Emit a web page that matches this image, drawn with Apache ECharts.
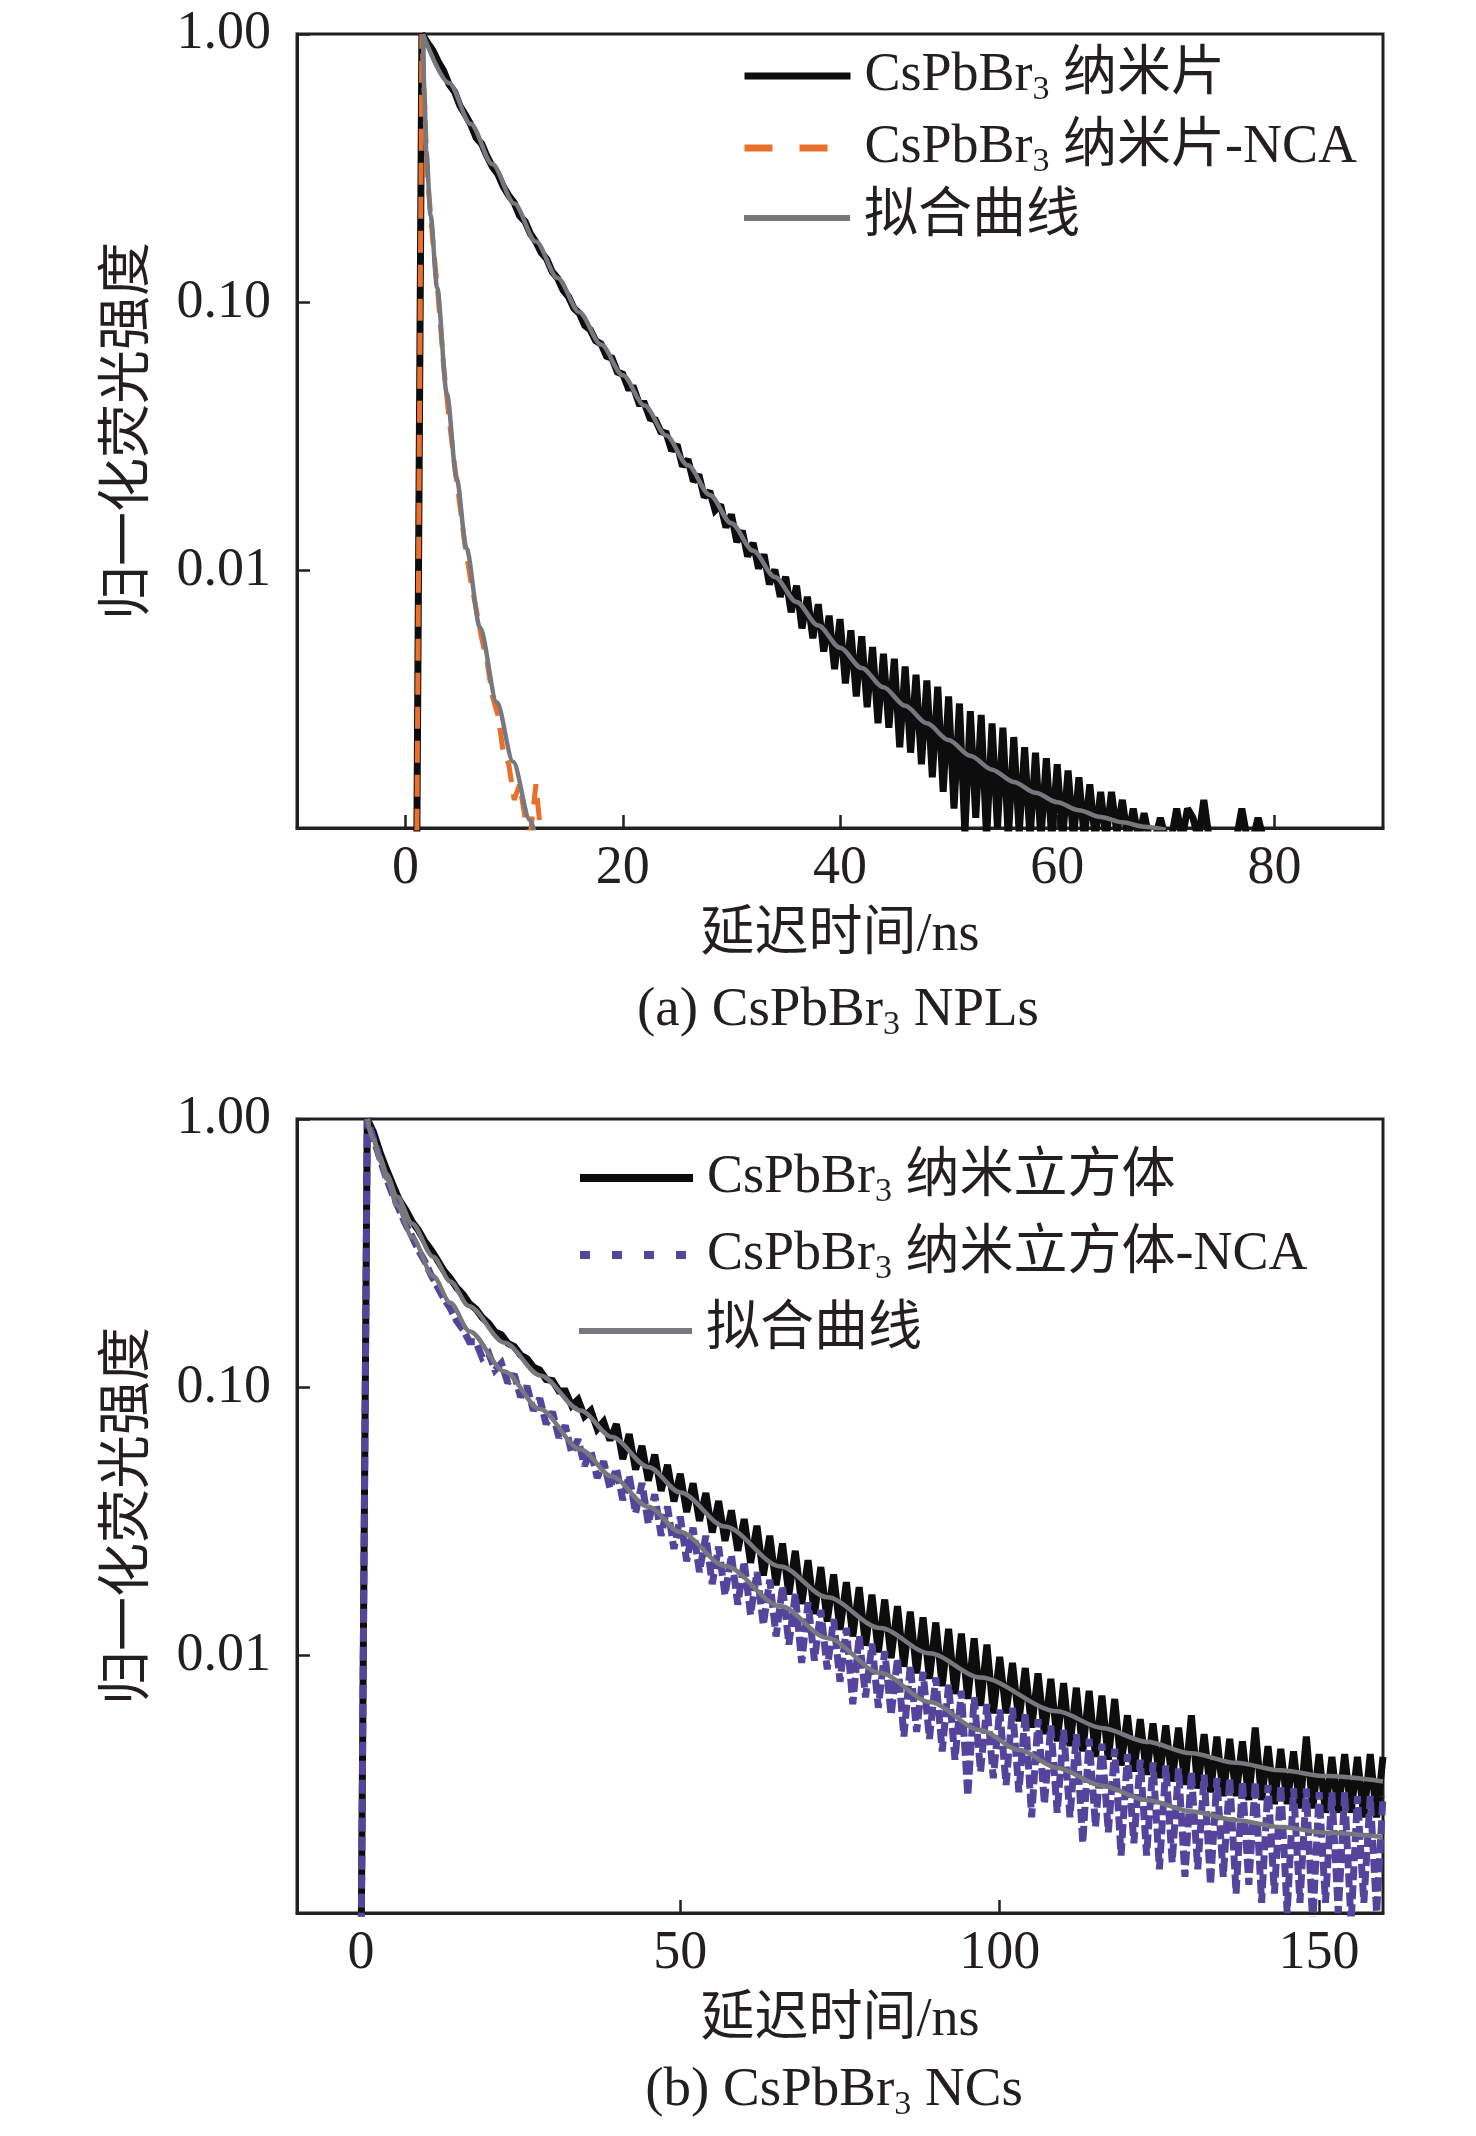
<!DOCTYPE html>
<html>
<head>
<meta charset="utf-8">
<script src="https://cdn.jsdelivr.net/npm/echarts@6/dist/echarts.min.js"></script>
<style>
html,body{margin:0;padding:0;background:#fff;}
#c{width:1476px;height:2136px;}
</style>
</head>
<body>
<div id="c"></div>
<script>
// ---------- Panel (a): CsPbBr3 NPLs ----------
const nplTimeStart = 1.0;   // ns, first channel
const nplTimeStep = 0.5;    // ns per channel
const nplData = [
0.0006,1.0,0.93,0.87,0.79,0.73,0.65,0.61,0.54,0.50,0.46,0.41,0.39,0.35,0.32,0.30,0.27,0.25,0.235,0.21,
0.20,0.18,0.168,0.153,0.145,0.13,0.123,0.111,0.105,0.095,0.091,0.082,0.079,0.072,0.070,0.063,0.062,0.055,0.054,0.048,
0.048,0.042,0.042,0.037,0.0365,0.033,0.0325,0.028,0.0295,0.0245,0.026,0.0215,0.0228,0.0188,0.0198,0.0168,0.0176,0.0145,0.0162,0.0128,
0.0141,0.0113,0.0127,0.0102,0.0115,0.0089,0.0101,0.0080,0.0095,0.0070,0.0088,0.0061,0.0080,0.0056,0.0075,0.0050,0.0068,0.0043,0.0066,0.0038,
0.0060,0.0034,0.0057,0.0031,0.0052,0.0027,0.0049,0.0026,0.0047,0.0022,0.0044,0.0021,0.0041,0.0019,0.0039,0.0017,0.0037,0.0015,0.0034,0.0013,
0.0032,0.00105,0.0030,0.0012,0.0029,0.0010,0.0027,0.0011,0.0026,0.0010,0.0024,0.00105,0.0022,0.0010,0.0021,0.0010,0.0020,0.0010,0.0019,0.0010,
0.0018,0.0010,0.0017,0.0010,0.0016,0.0010,0.0015,0.0010,0.0015,0.00105,0.0014,0.0010,0.0013,0.0010,0.00125,0.0010,0.0010,0.0012,0.0010,0.0010,
0.0013,0.0010,0.0013,0.0012,0.0010,0.0014,0.0010,0.0010,0.0010,0.0010,0.0010,0.0010,0.0013,0.0010,0.0010,0.0012,0.0010,0.0010
];
const nplNcaData = [
0.0006,1.0,0.30,0.17,0.105,0.058,0.037,0.025,0.0175,0.0122,0.0092,0.0072,0.0056,0.0046,0.0034,0.0029,0.0021,0.0019,0.0014,0.0016,
0.0012,0.00105,0.0016,0.0010,0.0009
];
const nplFitTime = [1.6,4,6,8,10,12,14,16,18,20,22,24,26,28,30,32,34,36,38,40,42,44,46,48,50,52,54,56,58,60,62,64,66,68,70];
const nplFitValue = [1.0,0.657,0.462,0.327,0.2336,0.1685,0.1232,0.0918,0.0696,0.0535,0.04125,0.0319,0.0247,0.01917,0.01502,0.01187,0.00948,0.00765,0.00625,0.00517,0.00434,0.00368,0.00314,0.0027,0.00234,0.002045,0.001814,0.001632,0.001488,0.001373,0.001281,0.001209,0.001155,0.001113,0.001083];
const nplNcaFitTime = [1.6,1.75,1.9,2.3,2.9,3.8,4.7,5.6,6.85,8.4,9.9,11.45,12.2];
const nplNcaFitValue = [1.0,0.575,0.367,0.2113,0.1135,0.0456,0.02208,0.01211,0.00615,0.003236,0.00194,0.001178,0.000933];

// ---------- Panel (b): CsPbBr3 NCs ----------
const ncTimeStart = 0;
const ncTimeStep = 1;
const ncData = [
0.0006,1.0,0.89,0.75,0.65,0.57,0.50,0.46,0.415,0.385,0.35,0.325,0.298,0.272,0.255,0.235,0.222,0.205,0.196,0.182,
0.173,0.161,0.157,0.146,0.142,0.132,0.128,0.119,0.116,0.107,0.106,0.097,0.097,0.0855,0.090,0.078,0.082,0.070,0.0745,0.0635,
0.073,0.054,0.067,0.0494,0.0605,0.0449,0.0562,0.0411,0.0514,0.0376,0.0476,0.0343,0.0439,0.0318,0.0404,0.0288,0.0377,0.0268,0.0348,0.0246,
0.0323,0.0222,0.0305,0.0199,0.0280,0.0183,0.0262,0.0169,0.0246,0.0156,0.0227,0.0143,0.0214,0.0134,0.0201,0.0125,0.0188,0.0118,0.0180,0.0109,
0.0169,0.0103,0.0162,0.0098,0.0153,0.0091,0.0146,0.0086,0.0139,0.0082,0.0133,0.0077,0.0126,0.0072,0.0121,0.0069,0.0116,0.0065,0.0110,0.0061,
0.0099,0.0061,0.0094,0.0057,0.0090,0.0054,0.0086,0.0051,0.0082,0.0048,0.0079,0.0046,0.0076,0.0044,0.0074,0.0042,0.0071,0.0041,0.0069,0.0039,
0.0060,0.0037,0.0058,0.0036,0.0056,0.0035,0.0055,0.0034,0.0054,0.0033,0.0060,0.0032,0.0051,0.0031,0.0050,0.0030,0.0049,0.0030,0.0048,0.0029,
0.0054,0.0029,0.0046,0.0028,0.0045,0.0028,0.0044,0.0027,0.0050,0.0027,0.0043,0.0026,0.0042,0.0026,0.0043,0.0026,0.0042,0.0025,0.0043,0.0025,
0.0042
];
const ncNcaData = [
0.0006,1.0,0.84,0.71,0.60,0.52,0.46,0.405,0.365,0.325,0.295,0.262,0.237,0.214,0.197,0.177,0.164,0.148,0.148,0.129,
0.134,0.116,0.123,0.104,0.112,0.092,0.101,0.082,0.091,0.073,0.081,0.065,0.072,0.057,0.064,0.051,0.058,0.046,0.053,0.042,
0.050,0.038,0.047,0.034,0.044,0.031,0.040,0.028,0.036,0.025,0.033,0.0225,0.030,0.0205,0.028,0.0185,0.0255,0.0168,0.0238,0.0155,
0.0225,0.0142,0.0205,0.0130,0.0192,0.0118,0.0182,0.0110,0.0170,0.0094,0.0158,0.0096,0.0148,0.0089,0.0137,0.0080,0.0127,0.0066,0.0119,0.0070,
0.0111,0.0064,0.0104,0.0060,0.0098,0.0050,0.0092,0.0052,0.0087,0.0049,0.0083,0.0044,0.0078,0.0041,0.0074,0.0030,0.0070,0.0037,0.0066,0.0035,
0.0063,0.0033,0.0064,0.0031,0.0061,0.0025,0.0058,0.0028,0.0055,0.0026,0.0053,0.0025,0.0051,0.0020,0.0049,0.0023,0.0047,0.0022,0.0045,0.0018,
0.0043,0.0020,0.0041,0.0018,0.0040,0.0016,0.0039,0.0017,0.0038,0.0015,0.0037,0.0016,0.0036,0.0014,0.0035,0.0015,0.0035,0.0013,0.0034,0.0014,
0.0034,0.0012,0.0033,0.0013,0.0033,0.0011,0.0032,0.0012,0.0032,0.0010,0.0031,0.0012,0.0031,0.0011,0.0031,0.0010,0.0030,0.0012,0.0030,0.0011,
0.0030
];
const ncFitTime = [1,2,3,4,5.7,8,11.3,14,16.9,22.5,28.1,34.4,39.3,45,50,57,65.7,73,81.3,89,97,109,116,123,130,137,144,151,160];
const ncFitValue = [1.0,0.841,0.719,0.624,0.513,0.408,0.307,0.248,0.201,0.1466,0.1107,0.082,0.0653,0.0505,0.0406,0.0303,0.0215,0.01652,0.01268,0.01021,0.0083,0.00621,0.00538,0.00478,0.00433,0.00399,0.00374,0.00356,0.0034];
const ncNcaFitTime = [1,2,3,4,5.7,8,11.3,14,17,22.5,28,34.4,39.3,45,50,57,65.7,73,81.3,89,97,103,109,116,123,130,137,144,151,160];
const ncNcaFitValue = [1.0,0.832,0.700,0.600,0.476,0.363,0.260,0.2065,0.162,0.1146,0.083,0.0587,0.0465,0.0359,0.0289,0.0216,0.0153,0.01164,0.00863,0.00673,0.00528,0.00446,0.00382,0.00328,0.0029,0.00263,0.00244,0.0023,0.00219,0.00211];

// ---------- Labels ----------
const nameNpl = 'CsPbBr3 纳米片';
const nameNplNca = 'CsPbBr3 纳米片-NCA';
const nameNc = 'CsPbBr3 纳米立方体';
const nameNcNca = 'CsPbBr3 纳米立方体-NCA';
const nameFit = '拟合曲线';
const xTitle = '延迟时间/ns';
const yTitle = '归一化荧光强度';
const captionA = '(a) CsPbBr3 NPLs';
const captionB = '(b) CsPbBr3 NCs';
const xRangeA = [-10, 90];
const xRangeB = [-10, 160];
const yRange = [0.0011, 1];

// ---------- Styling ----------
const FONT = "'Liberation Serif', 'Noto Sans CJK SC', serif";
const INK = '#231f20';
const C_BLACK = '#0d0d0d';
const C_ORANGE = '#e8702a';
const C_PURPLE = '#54449c';
const C_GRAY = '#76787d';
const FS = 54;

function sub(s) { return s.replace('CsPbBr3', 'CsPbBr{sub|3}'); }
const richSub = {
  sub: { fontSize: 34, lineHeight: 34, padding: [28, 0, 0, 0], fontFamily: FONT, color: INK }
};

function toPairs(start, step, arr) { return arr.map((v, i) => [start + i * step, v]); }
function zip(ts, vs) { return ts.map((t, i) => [t, vs[i]]); }

function xAxisCfg(gi, range, split) {
  return {
    type: 'value', gridIndex: gi, min: range[0], max: range[1], splitNumber: split,
    name: xTitle, nameLocation: 'middle', nameGap: 78,
    nameTextStyle: { fontFamily: FONT, fontSize: FS, color: INK, lineHeight: 60 },
    axisLine: { show: true, onZero: false, lineStyle: { color: INK, width: 3 } },
    axisTick: { show: true, inside: true, length: 13, lineStyle: { color: INK, width: 2.5 } },
    axisLabel: { fontFamily: FONT, fontSize: FS, color: INK, margin: 14, lineHeight: 54,
                 showMinLabel: false, showMaxLabel: false },
    splitLine: { show: false }
  };
}
function yAxisCfg(gi) {
  return {
    type: 'log', logBase: 10, gridIndex: gi, min: yRange[0], max: yRange[1],
    name: yTitle, nameLocation: 'middle', nameRotate: 90, nameGap: 137,
    nameTextStyle: { fontFamily: FONT, fontSize: FS, color: INK, lineHeight: 60 },
    axisLine: { show: true, onZero: false, lineStyle: { color: INK, width: 3 } },
    axisTick: { show: true, inside: true, length: 13, lineStyle: { color: INK, width: 2.5 } },
    minorTick: { show: false },
    axisLabel: { fontFamily: FONT, fontSize: FS, color: INK, margin: 26, showMinLabel: false,
                 formatter: v => Number(v).toFixed(2) },
    splitLine: { show: false }
  };
}
function legendCfg(name, left, centerY, width, lineStyle) {
  return {
    data: [{ name: name, lineStyle: lineStyle, itemStyle: { opacity: 0, borderWidth: 0 } }],
    left: left, top: centerY - 31, padding: 0, orient: 'vertical',
    itemWidth: width, itemHeight: 14, selectedMode: false,
    formatter: n => sub(n),
    textStyle: { fontFamily: FONT, fontSize: FS, color: INK, lineHeight: 62, padding: [0, 0, 0, 9], rich: richSub }
  };
}
function lineSeries(name, gi, data, color, width, type, extra) {
  return Object.assign({
    name: name, type: 'line', xAxisIndex: gi, yAxisIndex: gi, data: data,
    symbol: 'none', showSymbol: false, clip: true,
    lineStyle: { color: color, width: width, type: type || 'solid', join: 'miter', miterLimit: 2 },
    itemStyle: { color: color }, emphasis: { disabled: true }
  }, extra || {});
}

const option = {
  animation: false,
  backgroundColor: '#ffffff',
  grid: [
    { left: 297, top: 34, width: 1086, height: 794, show: true, borderColor: INK, borderWidth: 3 },
    { left: 297, top: 1119, width: 1086, height: 794, show: true, borderColor: INK, borderWidth: 3 }
  ],
  xAxis: [ xAxisCfg(0, xRangeA, 5), xAxisCfg(1, xRangeB, 3) ],
  yAxis: [ yAxisCfg(0), yAxisCfg(1) ],
  title: [
    { text: sub(captionA), left: 838, top: 980, textAlign: 'center', padding: 0,
      textStyle: { fontFamily: FONT, fontSize: 55, fontWeight: 'normal', color: INK, lineHeight: 62, rich: richSub } },
    { text: sub(captionB), left: 834, top: 2060, textAlign: 'center', padding: 0,
      textStyle: { fontFamily: FONT, fontSize: 55, fontWeight: 'normal', color: INK, lineHeight: 62, rich: richSub } }
  ],
  legend: [
    legendCfg(nameNpl, 741, 76, 106, { color: C_BLACK, width: 7 }),
    legendCfg(nameNplNca, 741, 148, 106, { color: C_ORANGE, width: 7, type: [28, 27] }),
    legendCfg(nameFit, 741, 218, 106, { color: C_GRAY, width: 6 }),
    legendCfg(nameNc, 576, 1178, 113, { color: C_BLACK, width: 8 }),
    legendCfg(nameNcNca, 576, 1255, 113, { color: C_PURPLE, width: 8, type: [10, 22] }),
    legendCfg(nameFit, 576, 1331, 113, { color: C_GRAY, width: 6 })
  ],
  series: [
    lineSeries(nameNpl, 0, toPairs(nplTimeStart, nplTimeStep, nplData), C_BLACK, 7),
    lineSeries(nameNplNca, 0, toPairs(nplTimeStart, nplTimeStep, nplNcaData), C_ORANGE, 5, [22, 12]),
    lineSeries(nameFit, 0, zip(nplFitTime, nplFitValue), C_GRAY, 4.5, 'solid', { smooth: 0.3, smoothMonotone: 'x' }),
    lineSeries(nameFit, 0, zip(nplNcaFitTime, nplNcaFitValue), C_GRAY, 4.5, 'solid', { smooth: 0.3, smoothMonotone: 'x' }),
    lineSeries(nameNc, 1, toPairs(ncTimeStart, ncTimeStep, ncData), C_BLACK, 7),
    lineSeries(nameNcNca, 1, toPairs(ncTimeStart, ncTimeStep, ncNcaData), C_PURPLE, 7, [14, 5]),
    lineSeries(nameFit, 1, zip(ncFitTime, ncFitValue), C_GRAY, 4.5, 'solid', { smooth: 0.3, smoothMonotone: 'x' }),
    lineSeries(nameFit, 1, zip(ncNcaFitTime, ncNcaFitValue), C_GRAY, 4.5, 'solid', { smooth: 0.3, smoothMonotone: 'x' })
  ]
};

const chart = echarts.init(document.getElementById('c'), null, { renderer: 'canvas' });
chart.setOption(option);
</script>
</body>
</html>
